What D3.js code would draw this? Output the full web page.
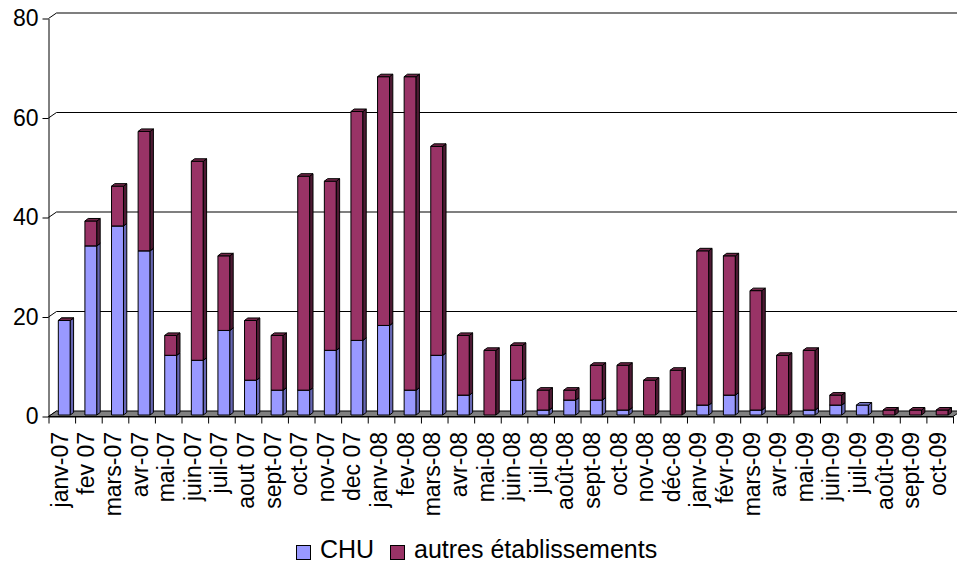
<!DOCTYPE html>
<html>
<head>
<meta charset="utf-8">
<script src="https://cdn.jsdelivr.net/npm/d3@7"></script>
<style>
html,body{margin:0;padding:0;background:#fff;}
svg{display:block;font-family:"Liberation Sans",Arial,sans-serif;}
</style>
</head>
<body>
<svg id="chart" width="957" height="563"></svg>
<script>
const categories = ["janv-07","fev 07","mars-07","avr-07","mai-07","juin-07","juil-07","aout 07","sept-07","oct-07","nov-07","dec 07","janv-08","fev-08","mars-08","avr-08","mai-08","juin-08","juil-08","août-08","sept-08","oct-08","nov-08","déc-08","janv-09","févr-09","mars-09","avr-09","mai-09","juin-09","juil-09","août-09","sept-09","oct-09"];
const chu    = [19,34,38,33,12,11,17,7,5,5,13,15,18,5,12,4,0,7,1,3,3,1,0,0,2,4,1,0,1,2,2,0,0,0];
const autres = [0,5,8,24,4,40,15,12,11,43,34,46,50,63,42,12,13,7,4,2,7,9,7,9,31,28,24,12,12,2,null,1,1,1];
const seriesNames = ["CHU","autres établissements"];
const yTicks = [0,20,40,60,80];

const colors = {
  CHU: {front:"#9999FF", side:"#6666B3", top:"#7A7ACC"},
  autres: {front:"#993366", side:"#4D1A33", top:"#732649"}
};

const svg = d3.select("#chart");
const X0 = 48.5, X1 = 953, Y0 = 416.5, Y1 = 18.5;
const wallDX = 8, wallDY = -5.5;      // depth of the 3D box
const barOX = 2.5, barOY = -1.5;      // bar front plane offset
const barDX = 3.3, barDY = -2.5;      // bar depth

const x = d3.scaleBand().domain(categories).range([X0, X1]).paddingInner(0.55).paddingOuter(0.275);
const xi = d3.scaleLinear().domain([0, categories.length]).range([X0, X1]);
const y = d3.scaleLinear().domain([0, 80]).range([Y0, Y1]);

// back wall gridlines + diagonals
const grid = svg.append("g");
yTicks.forEach(v => {
  const yy = y(v) + wallDY;
  if (v > 0) {
    grid.append("line").attr("x1", X0 + wallDX).attr("x2", 957).attr("y1", yy).attr("y2", yy)
      .attr("stroke", "#000").attr("stroke-width", 1.2);
  }
  grid.append("line").attr("x1", X0).attr("y1", y(v)).attr("x2", X0 + wallDX).attr("y2", y(v) + wallDY)
    .attr("stroke", "#000").attr("stroke-width", 1);
});

// floor
svg.append("path")
  .attr("d", `M${X0},${Y0}L${X1},${Y0}L${X1+wallDX},${Y0+wallDY}L${X0+wallDX},${Y0+wallDY}Z`)
  .attr("fill", "#808080").attr("stroke", "#000").attr("stroke-width", 1);

// bars
const bars = svg.append("g");
function drawSeg(cat, v0, v1, c, drawZero) {
  const xl = x(cat) + barOX, xr = xl + x.bandwidth();
  const yb = y(v0) + barOY, yt = y(v1) + barOY;
  const g = bars.append("g").attr("stroke", "#000").attr("stroke-width", 1).attr("stroke-linejoin", "round");
  if (v1 > v0) {
    g.append("rect").attr("x", xl).attr("y", yt).attr("width", xr - xl).attr("height", yb - yt).attr("fill", c.front);
    g.append("path").attr("d", `M${xr},${yb}L${xr+barDX},${yb+barDY}L${xr+barDX},${yt+barDY}L${xr},${yt}Z`).attr("fill", c.side);
  }
  if (v1 > v0 || drawZero) {
    g.append("path").attr("d", `M${xl},${yt}L${xl+barDX},${yt+barDY}L${xr+barDX},${yt+barDY}L${xr},${yt}Z`).attr("fill", c.top);
  }
}
categories.forEach((cat, i) => {
  const a = chu[i] || 0;
  drawSeg(cat, 0, a, colors.CHU, false);
  if (autres[i] !== null) drawSeg(cat, a, a + autres[i], colors.autres, true);
});

// y axis
const yAxis = svg.append("g").attr("transform", `translate(${X0},0)`)
  .call(d3.axisLeft(y).tickValues(yTicks).tickSize(6).tickPadding(4).tickSizeOuter(0));
yAxis.select(".domain").attr("stroke", "#000");
yAxis.selectAll("line").attr("stroke", "#000");
yAxis.selectAll("text").attr("font-size", 23).attr("font-family", "Liberation Sans, Arial, sans-serif").attr("fill", "#000");

// x axis ticks
const xAxis = svg.append("g").attr("transform", `translate(0,${Y0})`)
  .call(d3.axisBottom(xi).tickValues(d3.range(categories.length + 1)).tickSize(7).tickFormat("").tickSizeOuter(0));
xAxis.select(".domain").attr("stroke", "#000");
xAxis.selectAll("line").attr("stroke", "#000");

// x labels
svg.append("g").selectAll("text").data(categories).enter().append("text")
  .attr("transform", d => `translate(${x(d) + x.bandwidth()/2 - 2},432) rotate(-90)`)
  .attr("text-anchor", "end").attr("dy", "0.35em")
  .attr("font-size", 23).attr("fill", "#000")
  .text(d => d);

// legend
const legend = svg.append("g");
const legItems = [
  {name: seriesNames[0], c: colors.CHU.front, sx: 296, tx: 320},
  {name: seriesNames[1], c: colors.autres.front, sx: 390, tx: 414}
];
legItems.forEach(it => {
  legend.append("rect").attr("x", it.sx + 0.5).attr("y", 545.5).attr("width", 14).attr("height", 14)
    .attr("fill", it.c).attr("stroke", "#000").attr("stroke-width", 1);
  legend.append("text").attr("x", it.tx).attr("y", 558).attr("font-size", 25)
    .attr("fill", "#000").text(it.name);
});
</script>
</body>
</html>
